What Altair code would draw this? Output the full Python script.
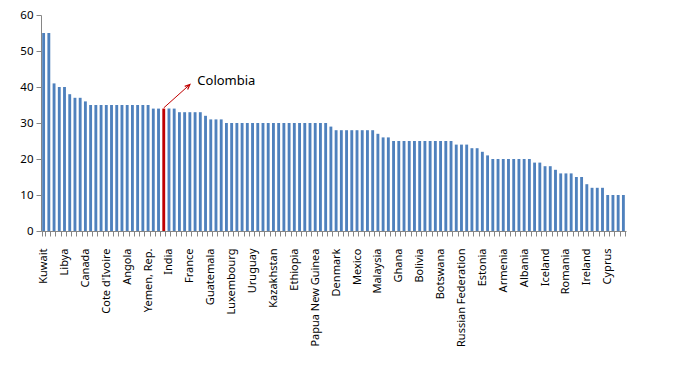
import json
import altair as alt
import pandas as pd

# Bar values (sorted descending), one per country
values = [55, 55, 41, 40, 40, 38, 37, 37, 36, 35,
          35, 35, 35, 35, 35, 35, 35, 35, 35, 35,
          35, 34, 34, 34, 34, 34, 33, 33, 33, 33,
          33, 32, 31, 31, 31, 30, 30, 30, 30, 30,
          30, 30, 30, 30, 30, 30, 30, 30, 30, 30,
          30, 30, 30, 30, 30, 29, 28, 28, 28, 28,
          28, 28, 28, 28, 27, 26, 26, 25, 25, 25,
          25, 25, 25, 25, 25, 25, 25, 25, 25, 24,
          24, 24, 23, 23, 22, 21, 20, 20, 20, 20,
          20, 20, 20, 20, 19, 19, 18, 18, 17, 16,
          16, 16, 15, 15, 13, 12, 12, 12, 10, 10,
          10, 10]

# Labels shown on the axis (every 4th bar)
tick_labels = ["Kuwait", "Libya", "Canada", "Cote d'Ivoire", "Angola",
               "Yemen, Rep.", "India", "France", "Guatemala", "Luxembourg",
               "Uruguay", "Kazakhstan", "Ethiopia", "Papua New Guinea",
               "Denmark", "Mexico", "Malaysia", "Ghana", "Bolivia",
               "Botswana", "Russian Federation", "Estonia", "Armenia",
               "Albania", "Iceland", "Romania", "Ireland", "Cyprus"]
label_every = 4
y_ticks = [0, 10, 20, 30, 40, 50, 60]

highlight_index = 23
highlight_name = "Colombia"

# annotation arrow (category index, value)
arrow_x = [23, 28]
arrow_y = [34.2, 40.7]
note_x = [30]
note_y = [41.8]

n = len(values)
names = [""] * n
for i, lab in enumerate(tick_labels):
    names[i * label_every] = lab

df = pd.DataFrame({"idx": list(range(n)), "value": values})

x_scale = alt.Scale(paddingInner=0.45, paddingOuter=0.225)
y_scale = alt.Scale(domain=[0, 60], nice=False)

x_axis = alt.Axis(
    labelExpr=json.dumps(names) + "[datum.value]",
    labelAngle=-90,
    labelOverlap=False,
    tickBand="extent",
    tickSize=5,
    labelPadding=12,
    domainColor="#868686",
    tickColor="#868686",
    labelFont="Noto Sans",
    labelFontSize=11,
    labelColor="#000000",
)

y_axis = alt.Axis(
    values=y_ticks,
    labelOverlap=False,
    grid=False,
    tickSize=5,
    labelPadding=3,
    domainColor="#868686",
    tickColor="#868686",
    labelFont="Noto Sans",
    labelFontSize=11.5,
    labelColor="#000000",
)

x_enc = alt.X("idx:O", scale=x_scale, title=None, axis=x_axis)
y_enc = alt.Y("value:Q", scale=y_scale, title=None, axis=y_axis)

bars = alt.Chart(df).mark_bar().encode(
    x=x_enc,
    y=y_enc,
    color=alt.condition(
        alt.datum.idx == highlight_index,
        alt.value("#C00000"),
        alt.value("#4F81BD"),
    ),
)

arrow_df = pd.DataFrame({"idx": arrow_x, "value": arrow_y})
arrow_line = alt.Chart(arrow_df).mark_line(color="#C00000", strokeWidth=1).encode(
    x=x_enc, y=y_enc,
)

head_df = pd.DataFrame({"idx": arrow_x[1:], "value": arrow_y[1:]})
arrow_head = alt.Chart(head_df).mark_point(
    shape="M-0.55,1.3 L0,0 L0.55,1.3",
    filled=False,
    color="#C00000",
    strokeWidth=1.2,
    size=60,
    angle=47,
    opacity=1,
).encode(x=x_enc, y=y_enc)

note_df = pd.DataFrame({"idx": note_x, "value": note_y, "text": [highlight_name]})
note = alt.Chart(note_df).mark_text(
    align="left", baseline="middle", font="Noto Sans", fontSize=13, color="#000000", dx=-3
).encode(x=x_enc, y=y_enc, text="text:N")

chart = alt.layer(bars, arrow_line, arrow_head, note).properties(
    width=585,
    height=216,
    autosize=alt.AutoSizeParams(type="none"),
    padding={"left": 33, "top": 7, "right": 40, "bottom": 120},
).configure_view(stroke=None)

chart.save("out.html", embed_options={"renderer": "svg", "actions": False})
